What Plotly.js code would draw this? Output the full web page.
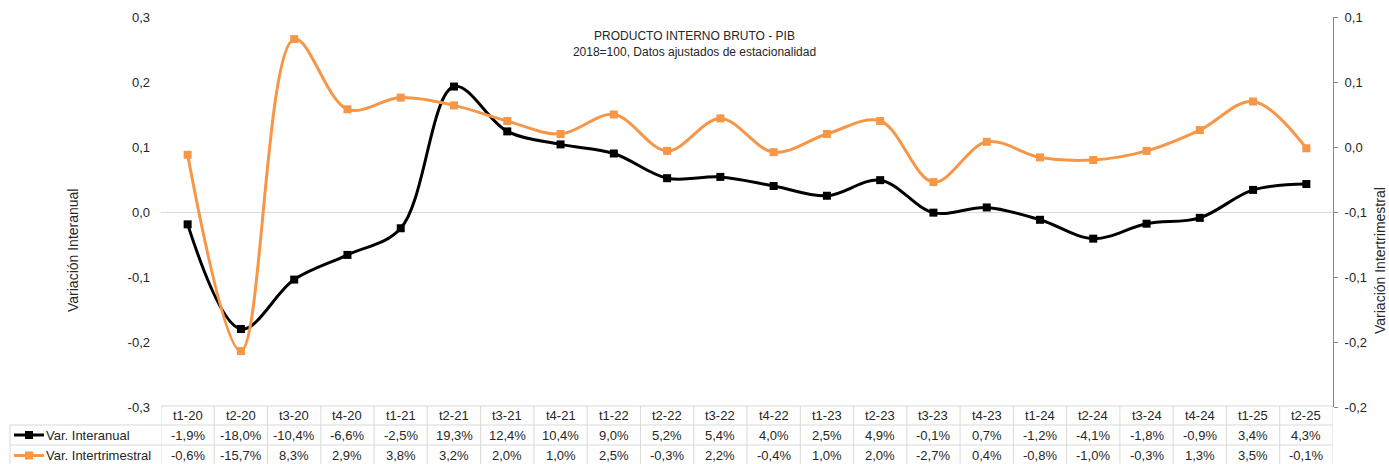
<!DOCTYPE html>
<html>
<head>
<meta charset="utf-8">
<script src="https://cdn.plot.ly/plotly-3.0.1.min.js"></script>
<style>html,body{margin:0;padding:0;background:#fff;}#chart{width:1389px;height:464px;}</style>
</head>
<body>
<div id="chart"></div>
<script>
// ---- data ----
const categories = ["t1-20","t2-20","t3-20","t4-20","t1-21","t2-21","t3-21","t4-21","t1-22","t2-22","t3-22","t4-22","t1-23","t2-23","t3-23","t4-23","t1-24","t2-24","t3-24","t4-24","t1-25","t2-25"];
const interanual = [-1.9,-18.0,-10.4,-6.6,-2.5,19.3,12.4,10.4,9.0,5.2,5.4,4.0,2.5,4.9,-0.1,0.7,-1.2,-4.1,-1.8,-0.9,3.4,4.3];
const intertrimestral = [-0.6,-15.7,8.3,2.9,3.8,3.2,2.0,1.0,2.5,-0.3,2.2,-0.4,1.0,2.0,-2.7,0.4,-0.8,-1.0,-0.3,1.3,3.5,-0.1];
const seriesNames = ["Var. Interanual","Var. Intertrimestral"];
const leftTickVals = [-0.3,-0.2,-0.1,0,0.1,0.2,0.3];
const leftTickText = ["-0,3","-0,2","-0,1","0,0","0,1","0,2","0,3"];
const rightTickVals = [-0.2,-0.15,-0.1,-0.05,0,0.05,0.1];
const rightTickText = ["-0,2","-0,2","-0,1","-0,1","0,0","0,1","0,1"];
const titleText = "PRODUCTO INTERNO BRUTO - PIB<br>2018=100, Datos ajustados de estacionalidad";
const leftTitle = "Variación Interanual";
const rightTitle = "Variación Intertrimestral";

// ---- layout geometry ----
const W = 1389, H = 464;
const L = 161, R = 1333, T = 17, B = 407;
const px = x => (x - L) / (R - L);
const py = y => (B - y) / (B - T);
const BLACK = "#000000", ORANGE = "#F79646", GRID = "#d9d9d9", TXT = "#262626";
const FONT = "Liberation Sans, Arial, sans-serif";
const fmt = v => v.toFixed(1).replace(".", ",") + "%";
const idx = categories.map((_, i) => i);

const traces = [
  {x: idx, y: interanual.map(v => v / 100), name: seriesNames[0], type: "scatter", mode: "lines+markers",
   line: {color: BLACK, width: 3, shape: "spline", smoothing: 1}, marker: {symbol: "square", size: 8, color: BLACK}, yaxis: "y"},
  {x: idx, y: intertrimestral.map(v => v / 100), name: seriesNames[1], type: "scatter", mode: "lines+markers",
   line: {color: ORANGE, width: 3, shape: "spline", smoothing: 1}, marker: {symbol: "square", size: 8, color: ORANGE}, yaxis: "y2"}
];

const shapes = [];
const annotations = [];
const rowTop = 406, row1 = 425, row2 = 445, rowBot = 466;
const lineS = (x0, y0, x1, y1, xref) => ({type: "line", xref: xref || "paper", yref: "paper", x0, y0, x1, y1, line: {color: GRID, width: 1}});
// horizontal table lines
shapes.push(lineS(0, py(rowTop), 1, py(rowTop)));
shapes.push(lineS(px(10), py(row1), 1, py(row1)));
shapes.push(lineS(px(10), py(row2), 1, py(row2)));
shapes.push(lineS(px(10), py(rowBot), 1, py(rowBot)));
// vertical table lines
shapes.push(lineS(px(10), py(row1), px(10), py(rowBot)));
for (let k = 0; k <= categories.length; k++) {
  shapes.push(lineS(k - 0.5, py(rowTop), k - 0.5, py(rowBot), "x"));
}
// cell text
const cellFont = {family: FONT, size: 13, color: TXT};
categories.forEach((c, i) => {
  annotations.push({xref: "x", yref: "paper", x: i, y: py((rowTop + row1) / 2), text: c, showarrow: false, font: cellFont, xanchor: "center", yanchor: "middle"});
  annotations.push({xref: "x", yref: "paper", x: i, y: py((row1 + row2) / 2), text: fmt(interanual[i]), showarrow: false, font: cellFont, xanchor: "center", yanchor: "middle"});
  annotations.push({xref: "x", yref: "paper", x: i, y: py((row2 + rowBot) / 2), text: fmt(intertrimestral[i]), showarrow: false, font: cellFont, xanchor: "center", yanchor: "middle"});
});
// legend keys in table
[[BLACK, (row1 + row2) / 2, seriesNames[0]], [ORANGE, (row2 + rowBot) / 2, seriesNames[1]]].forEach(([col, yc, name]) => {
  shapes.push({type: "line", xref: "paper", yref: "paper", x0: px(14), x1: px(44), y0: py(yc), y1: py(yc), line: {color: col, width: 3}});
  shapes.push({type: "rect", xref: "paper", yref: "paper", x0: px(25), x1: px(33), y0: py(yc - 4), y1: py(yc + 4), fillcolor: col, line: {width: 0}});
  annotations.push({xref: "paper", yref: "paper", x: px(44), y: py(yc), text: name, showarrow: false, font: cellFont, xanchor: "left", yanchor: "middle"});
});
// axis titles
annotations.push({xref: "paper", yref: "paper", x: px(73), y: py(250), text: leftTitle, textangle: -90, showarrow: false, font: {family: FONT, size: 14, color: TXT}, xanchor: "center", yanchor: "middle"});
annotations.push({xref: "paper", yref: "paper", x: px(1380), y: py(261), text: rightTitle, textangle: -90, showarrow: false, font: {family: FONT, size: 14, color: TXT}, xanchor: "center", yanchor: "middle"});

const layout = {
  width: W, height: H,
  margin: {l: L, r: W - R, t: T, b: H - B, pad: 0},
  paper_bgcolor: "#fff", plot_bgcolor: "#fff",
  separators: ",.",
  showlegend: false,
  font: {family: FONT, size: 13, color: TXT},
  title: {text: titleText, x: 0.5, xref: "container", xanchor: "center", y: 1 - 40 / H, yref: "container", yanchor: "middle", font: {family: FONT, size: 12, color: TXT}},
  xaxis: {range: [-0.5, categories.length - 0.5], showticklabels: false, showgrid: false, zeroline: false, showline: false, ticks: "", fixedrange: true},
  yaxis: {range: [-0.3, 0.3], tickvals: leftTickVals, ticktext: leftTickText, showgrid: false, zeroline: true, zerolinecolor: GRID, zerolinewidth: 1, showline: false, ticks: "", ticklabelstandoff: 10, tickfont: {family: FONT, size: 13, color: TXT}},
  yaxis2: {range: [-0.2, 0.1], overlaying: "y", side: "right", tickvals: rightTickVals, ticktext: rightTickText, showgrid: false, zeroline: false, showline: true, linecolor: "#868686", linewidth: 1, ticks: "outside", ticklen: 4, tickcolor: "#868686", ticklabelstandoff: 4, tickfont: {family: FONT, size: 13, color: TXT}},
  shapes, annotations
};
Plotly.newPlot("chart", traces, layout, {displayModeBar: false, staticPlot: true});
</script>
</body>
</html>
